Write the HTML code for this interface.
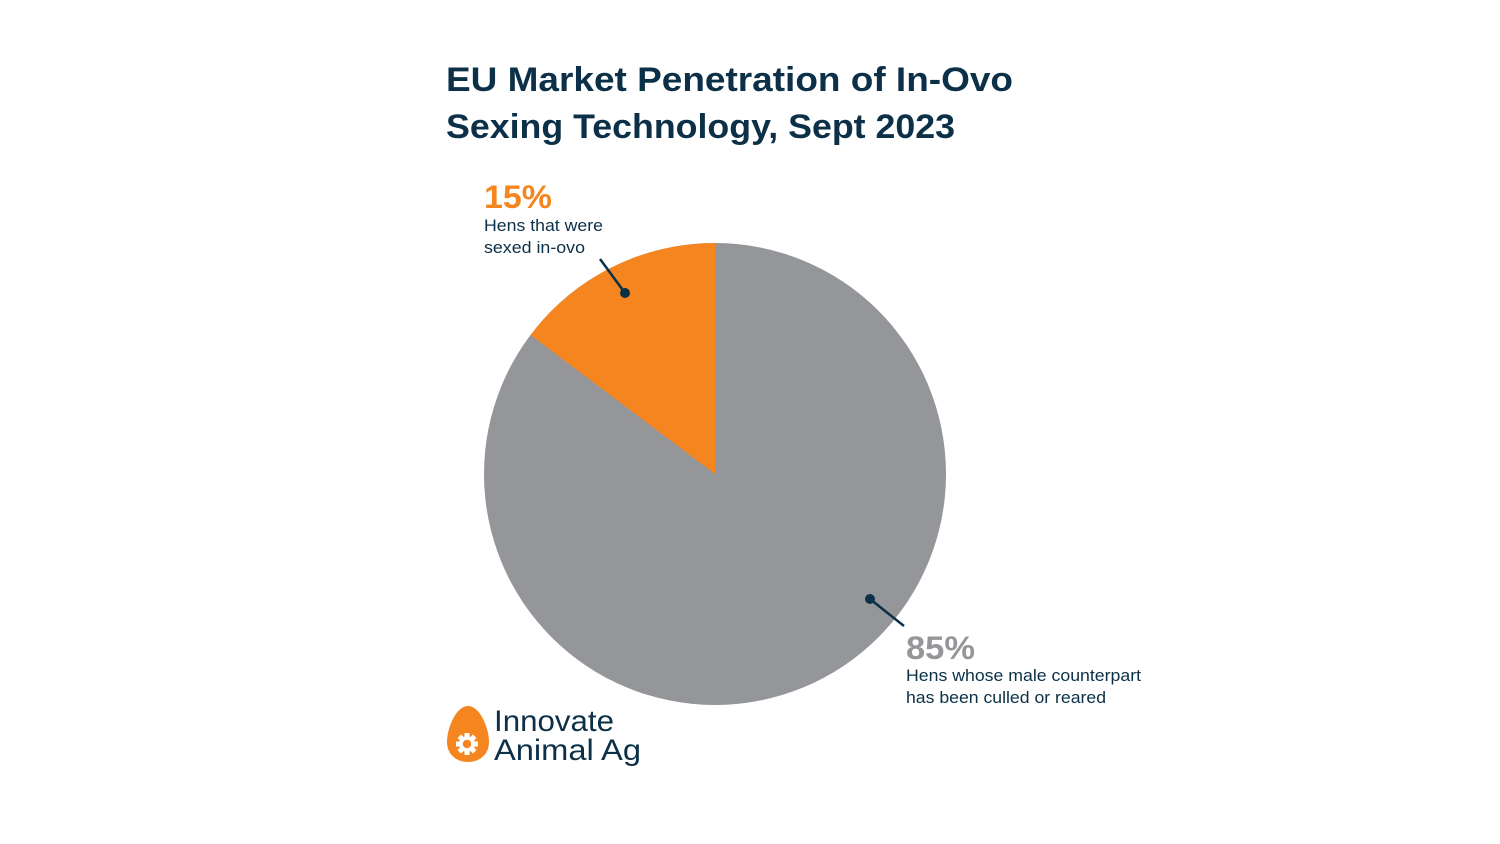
<!DOCTYPE html>
<html>
<head>
<meta charset="utf-8">
<style>
  html, body { margin: 0; padding: 0; background: #ffffff; }
  body { width: 1500px; height: 844px; overflow: hidden; }
  svg { display: block; }
  text { font-family: "Liberation Sans", "DejaVu Sans", sans-serif; }
</style>
</head>
<body>
<svg width="1500" height="844" viewBox="0 0 1500 844" xmlns="http://www.w3.org/2000/svg">
  <rect width="1500" height="844" fill="#ffffff"/>

  <!-- Title -->
  <text x="446" y="91" font-size="34" font-weight="bold" fill="#0b3047" textLength="567" lengthAdjust="spacingAndGlyphs">EU Market Penetration of In-Ovo</text>
  <text x="446" y="138" font-size="34" font-weight="bold" fill="#0b3047" textLength="509" lengthAdjust="spacingAndGlyphs">Sexing Technology, Sept 2023</text>

  <!-- Pie -->
  <circle cx="715" cy="474" r="231" fill="#959699"/>
  <path d="M715,474 L715,243 A231,231 0 0 0 530.5,335 Z" fill="#f5851f"/>

  <!-- 15% label -->
  <text x="484" y="208" font-size="32" font-weight="bold" fill="#f5851f" textLength="68" lengthAdjust="spacingAndGlyphs">15%</text>
  <text x="484" y="231" font-size="16.5" fill="#0b3047" textLength="119" lengthAdjust="spacingAndGlyphs">Hens that were</text>
  <text x="484" y="253" font-size="16.5" fill="#0b3047" textLength="101" lengthAdjust="spacingAndGlyphs">sexed in-ovo</text>
  <line x1="600" y1="259" x2="625" y2="293" stroke="#0b3047" stroke-width="2.5"/>
  <circle cx="625" cy="293" r="5" fill="#0b3047"/>

  <!-- 85% label -->
  <line x1="870" y1="599" x2="904" y2="626" stroke="#0b3047" stroke-width="2.5"/>
  <circle cx="870" cy="599" r="5" fill="#0b3047"/>
  <text x="906" y="659" font-size="32" font-weight="bold" fill="#959699" textLength="69" lengthAdjust="spacingAndGlyphs">85%</text>
  <text x="906" y="681" font-size="16.5" fill="#0b3047" textLength="235" lengthAdjust="spacingAndGlyphs">Hens whose male counterpart</text>
  <text x="906" y="703" font-size="16.5" fill="#0b3047" textLength="200" lengthAdjust="spacingAndGlyphs">has been culled or reared</text>

  <!-- Logo -->
  <path d="M468,706 C480,706 489,728 489,742 C489,754 480,762 468,762 C456,762 447,754 447,742 C447,728 456,706 468,706 Z" fill="#f5851f"/>
  <g transform="translate(467,744)" fill="#ffffff">
    <circle r="8"/>
    <rect x="-2.5" y="-11" width="5" height="22"/>
    <rect x="-2.5" y="-11" width="5" height="22" transform="rotate(45)"/>
    <rect x="-2.5" y="-11" width="5" height="22" transform="rotate(90)"/>
    <rect x="-2.5" y="-11" width="5" height="22" transform="rotate(135)"/>
    <circle r="4.2" fill="#f5851f"/>
  </g>
  <text x="494" y="731" font-size="30" fill="#0b3047" textLength="120" lengthAdjust="spacingAndGlyphs">Innovate</text>
  <text x="494" y="760" font-size="30" fill="#0b3047" textLength="147" lengthAdjust="spacingAndGlyphs">Animal Ag</text>
</svg>
</body>
</html>
